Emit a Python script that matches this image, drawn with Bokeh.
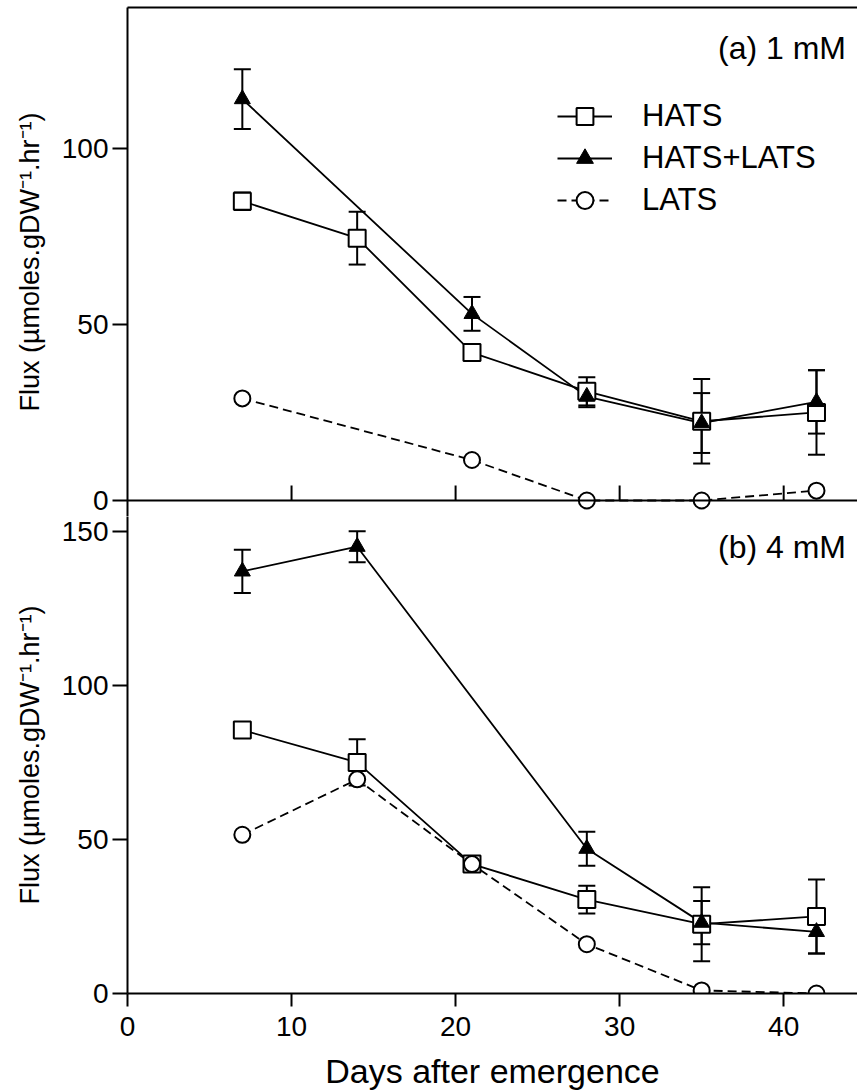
import numpy as np
from bokeh.plotting import figure
from bokeh.layouts import column
from bokeh.models import (Range1d, LinearAxis, FixedTicker, Legend, LegendItem,
                          Label, Span)
from bokeh.embed import file_html
from bokeh.resources import INLINE

FONT = "Liberation Sans"

# ---------------- data ----------------
# (a) 1 mM
days_hats_1 = [7, 14, 21, 28, 35, 42]
hats_1 = [85, 74.5, 42, 31, 22.5, 25]
hats_1_err = [2.5, 7.5, 2, 4, 12, 12]
days_both_1 = [7, 21, 28, 35, 42]
both_1 = [114, 53, 29.5, 22, 28]
both_1_err = [8.5, 4.8, 3, 8.5, 9]
days_lats_1 = [7, 21, 28, 35, 42]
lats_1 = [29, 11.5, 0, 0, 2.8]

# (b) 4 mM
days_hats_4 = [7, 14, 21, 28, 35, 42]
hats_4 = [85.5, 75, 42, 30.5, 22.5, 25]
hats_4_err = [1.5, 7.5, 1.5, 4.5, 12, 12]
days_both_4 = [7, 14, 28, 35, 42]
both_4 = [137, 145, 47, 23, 20]
both_4_err = [7, 5, 5.5, 7, 7]
days_lats_4 = [7, 14, 21, 28, 35, 42]
lats_4 = [51.5, 69.5, 42, 16, 1, 0]

x_ticks = [0, 10, 20, 30, 40]
y_ticks_1 = [0, 50, 100]
y_ticks_4 = [0, 50, 100, 150]
y_max_1 = 140   # top panel (a) range 0..140
y_max_4 = 160   # bottom panel (b) range 0..160
x_max = 44.5
y_label = "Flux (µmoles.gDW⁻¹.hr⁻¹)"
x_label = "Days after emergence"

# ---- geometry (pixels) ----
PANEL_H = 493          # nominal height of each panel
OVERLAP = 16           # top figure's frame reaches this far below its 0 line
scale_1 = PANEL_H / y_max_1
scale_4 = PANEL_H / y_max_4


def style_y(p, ticks):
    ax = p.yaxis[0]
    ax.ticker = FixedTicker(ticks=ticks)
    ax.axis_line_width = 2
    ax.major_tick_line_width = 2
    ax.major_tick_out = 15
    ax.major_tick_in = 0
    ax.minor_tick_line_color = None
    ax.major_label_text_font = FONT
    ax.major_label_text_font_size = "28px"
    ax.major_label_text_color = "black"
    ax.major_label_standoff = 4
    ax.axis_label = y_label
    ax.axis_label_text_font = FONT
    ax.axis_label_text_font_size = "27px"
    ax.axis_label_text_font_style = "normal"
    ax.axis_label_text_color = "black"
    ax.axis_label_standoff = 14


def add_series(p, dh, h, he, db, b, be, dl, l):
    for d, v, e in ((dh, h, he), (db, b, be)):
        v = np.array(v, dtype=float)
        e = np.array(e, dtype=float)
        p.segment(x0=d, y0=v - e, x1=d, y1=v + e, line_color="black", line_width=2)
        p.scatter(x=d, y=v + e, marker="dash", size=17, line_color="black", line_width=2)
        p.scatter(x=d, y=v - e, marker="dash", size=17, line_color="black", line_width=2)
    lh = p.line(dh, h, line_color="black", line_width=1.8)
    lb = p.line(db, b, line_color="black", line_width=1.8)
    ll = p.line(dl, l, line_color="black", line_width=1.8, line_dash="9 5")
    mh = p.scatter(dh, h, marker="square", size=17, fill_color="white",
                   line_color="black", line_width=2)
    mb = p.scatter(db, b, marker="triangle", size=16, fill_color="black",
                   line_color="black", line_width=1)
    ml = p.scatter(dl, l, marker="circle", size=16, fill_color="white",
                   line_color="black", line_width=2)
    return (lh, mh), (lb, mb), (ll, ml)


# ---------------- top panel (a) ----------------
p1 = figure(frame_width=730, frame_height=PANEL_H + OVERLAP,
            x_range=Range1d(0, x_max),
            y_range=Range1d(-OVERLAP / scale_1, y_max_1),
            output_backend="svg", toolbar_location=None,
            min_border_left=127, min_border_right=0, min_border_top=7,
            min_border_bottom=0)
p1.outline_line_color = None
p1.grid.visible = False
p1.xaxis.visible = False
style_y(p1, y_ticks_1)

top_border = LinearAxis(ticker=FixedTicker(ticks=[]), major_tick_in=0, major_tick_out=0,
                        minor_tick_in=0, minor_tick_out=0, axis_line_width=2)
p1.add_layout(top_border, "above")

# x axis line of panel (a) with inward ticks
p1.add_layout(Span(location=0, dimension="width", line_color="black", line_width=2))
p1.ray(x=[t for t in x_ticks if t > 0], y=0, length=15, length_units="screen",
       angle=np.pi / 2, line_color="black", line_width=2)

r_h, r_b, r_l = add_series(p1, days_hats_1, hats_1, hats_1_err, days_both_1, both_1,
                           both_1_err, days_lats_1, lats_1)

legend = Legend(items=[LegendItem(label="HATS", renderers=list(r_h)),
                       LegendItem(label="HATS+LATS", renderers=list(r_b)),
                       LegendItem(label="LATS", renderers=list(r_l))],
                location=(430, 279 + OVERLAP), margin=0, padding=0, spacing=0,
                glyph_width=55, glyph_height=42, label_height=42,
                label_standoff=30, label_text_font=FONT,
                label_text_font_size="31px", label_text_color="black",
                border_line_color=None, background_fill_alpha=0)
p1.add_layout(legend)

p1.add_layout(Label(x=43.8, y=128.6, text="(a) 1 mM", text_align="right",
                    text_baseline="alphabetic", text_font=FONT,
                    text_font_size="32px", text_color="black"))

# ---------------- bottom panel (b) ----------------
p2 = figure(frame_width=730, frame_height=PANEL_H - OVERLAP,
            x_range=p1.x_range,
            y_range=Range1d(0, y_max_4 - OVERLAP / scale_4),
            output_backend="svg", toolbar_location=None,
            min_border_left=127, min_border_right=0, min_border_top=0,
            min_border_bottom=0)
p2.outline_line_color = None
p2.grid.visible = False
style_y(p2, y_ticks_4)

xa = p2.xaxis[0]
xa.ticker = FixedTicker(ticks=x_ticks)
xa.axis_line_width = 2
xa.major_tick_line_width = 2
xa.major_tick_in = 0
xa.major_tick_out = 13
xa.minor_tick_line_color = None
xa.major_label_text_font = FONT
xa.major_label_text_font_size = "28px"
xa.major_label_text_color = "black"
xa.major_label_standoff = 10
xa.axis_label = x_label
xa.axis_label_text_font = FONT
xa.axis_label_text_font_size = "34px"
xa.axis_label_text_font_style = "normal"
xa.axis_label_text_color = "black"
xa.axis_label_standoff = 13

add_series(p2, days_hats_4, hats_4, hats_4_err, days_both_4, both_4, both_4_err,
           days_lats_4, lats_4)

p2.add_layout(Label(x=43.8, y=145, text="(b) 4 mM", text_align="right",
                    text_baseline="alphabetic", text_font=FONT,
                    text_font_size="32px", text_color="black"))

layout = column(p1, p2, spacing=0)
open("out.html", "w").write(file_html(layout, INLINE))
